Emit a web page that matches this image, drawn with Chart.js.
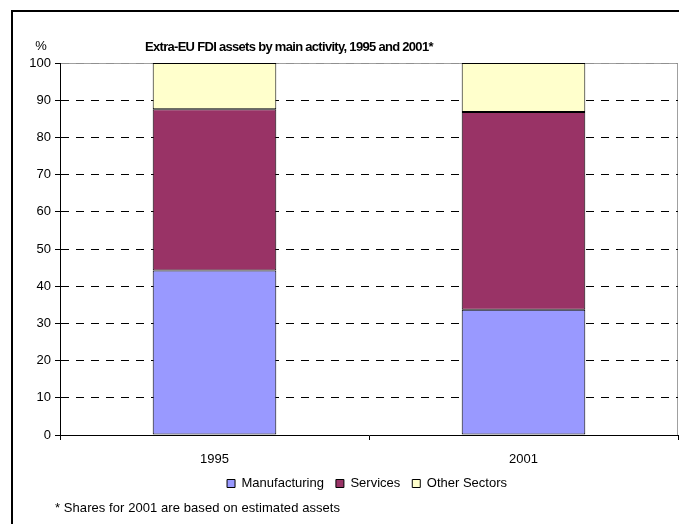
<!DOCTYPE html>
<html><head><meta charset="utf-8">
<script src="https://cdn.jsdelivr.net/npm/chart.js@4/dist/chart.umd.min.js"></script>
<style>html,body{margin:0;padding:0;background:#fff;}#wrap{width:679px;height:524px;position:relative;}</style>
</head><body><div id="wrap"><canvas id="c" width="679" height="524"></canvas></div>
<script>
const categories = ['1995', '2001'];
const manufacturing = [44.2, 33.7];
const services = [43.4, 53.1];
const otherSectors = [12.4, 13.2];
const seriesNames = ['Manufacturing', 'Services', 'Other Sectors'];
const yTicks = [0, 10, 20, 30, 40, 50, 60, 70, 80, 90, 100];
const titleText = 'Extra-EU FDI assets by main activity, 1995 and 2001*';
const footnoteText = '* Shares for 2001 are based on estimated assets';
const unitText = '%';

const FONT = '"Liberation Sans", Arial, sans-serif';

function fitText(ctx, text, x, y, width, font) {
  ctx.save();
  ctx.font = font;
  ctx.letterSpacing = '0px';
  const w0 = ctx.measureText(text).width;
  const ls = (width - w0) / text.length;
  ctx.letterSpacing = ls.toFixed(2) + 'px';
  ctx.fillStyle = '#000';
  ctx.textAlign = 'left';
  ctx.textBaseline = 'middle';
  ctx.fillText(text, x, y);
  ctx.restore();
}

const decor = {
  id: 'decor',
  afterLayout(chart) {
    if (chart.legend) { chart.legend.left += 28; chart.legend.right += 28; }
  },
  beforeDraw(chart) {
    const {ctx, chartArea: a} = chart;
    ctx.save();
    ctx.fillStyle = '#fff';
    ctx.fillRect(0, 0, chart.width, chart.height);
    ctx.strokeStyle = '#000';
    ctx.lineWidth = 2;
    ctx.strokeRect(12, 11, 800, 800);
    ctx.strokeStyle = '#a0a0a0';
    ctx.lineWidth = 1;
    ctx.beginPath();
    ctx.moveTo(a.left, a.top + 0.5);
    ctx.lineTo(a.right - 0.5, a.top + 0.5);
    ctx.lineTo(a.right - 0.5, a.bottom);
    ctx.stroke();
    ctx.restore();
  },
  afterDraw(chart) {
    const ctx = chart.ctx;
    fitText(ctx, titleText, 145, 47, 288, 'bold 13px ' + FONT);
    ctx.save();
    ctx.font = '13px ' + FONT;
    ctx.fillStyle = '#000';
    ctx.textAlign = 'center';
    ctx.textBaseline = 'middle';
    ctx.fillText(unitText, 41, 46);
    ctx.restore();
    fitText(ctx, footnoteText, 55, 508, 285, '13px ' + FONT);
  }
};

new Chart(document.getElementById('c'), {
  type: 'bar',
  data: {
    labels: categories,
    datasets: [
      {label: seriesNames[0], data: manufacturing, backgroundColor: '#9999FF', borderColor: '#000', borderWidth: 1, borderSkipped: false},
      {label: seriesNames[1], data: services, backgroundColor: '#993366', borderColor: '#000', borderWidth: 1, borderSkipped: false},
      {label: seriesNames[2], data: otherSectors, backgroundColor: '#FFFFCC', borderColor: '#000', borderWidth: 1, borderSkipped: false}
    ]
  },
  options: {
    responsive: false,
    animation: false,
    devicePixelRatio: 1,
    layout: {padding: {top: 63, right: 1, left: 0, bottom: 24}},
    datasets: {bar: {categoryPercentage: 0.4, barPercentage: 1.0}},
    plugins: {
      title: {display: false},
      tooltip: {enabled: false},
      legend: {
        display: true,
        position: 'bottom',
        labels: {boxWidth: 8, boxHeight: 8, padding: 12, color: '#000', font: {family: FONT, size: 13}}
      }
    },
    scales: {
      x: {
        stacked: true,
        grid: {display: true, offset: true, drawOnChartArea: false, drawTicks: true, tickLength: 5, color: '#000'},
        border: {display: true, color: '#000', width: 1},
        ticks: {color: '#000', padding: 12, font: {family: FONT, size: 13}},
        afterFit(s) { s.height = 30; }
      },
      y: {
        stacked: true,
        min: 0, max: 100,
        afterBuildTicks(s) { s.ticks = yTicks.map(v => ({value: v})); },
        grid: {
          display: true, drawTicks: true, tickLength: 5,
          color: c => (c.tick && c.tick.value === 100) ? '#909090' : '#000',
          tickColor: '#000'
        },
        border: {display: true, color: '#000', width: 1, dash: [8, 7]},
        ticks: {color: '#000', padding: 4, font: {family: FONT, size: 13}},
        afterFit(s) { s.width = 60; }
      }
    }
  },
  plugins: [decor]
});
</script></body></html>
